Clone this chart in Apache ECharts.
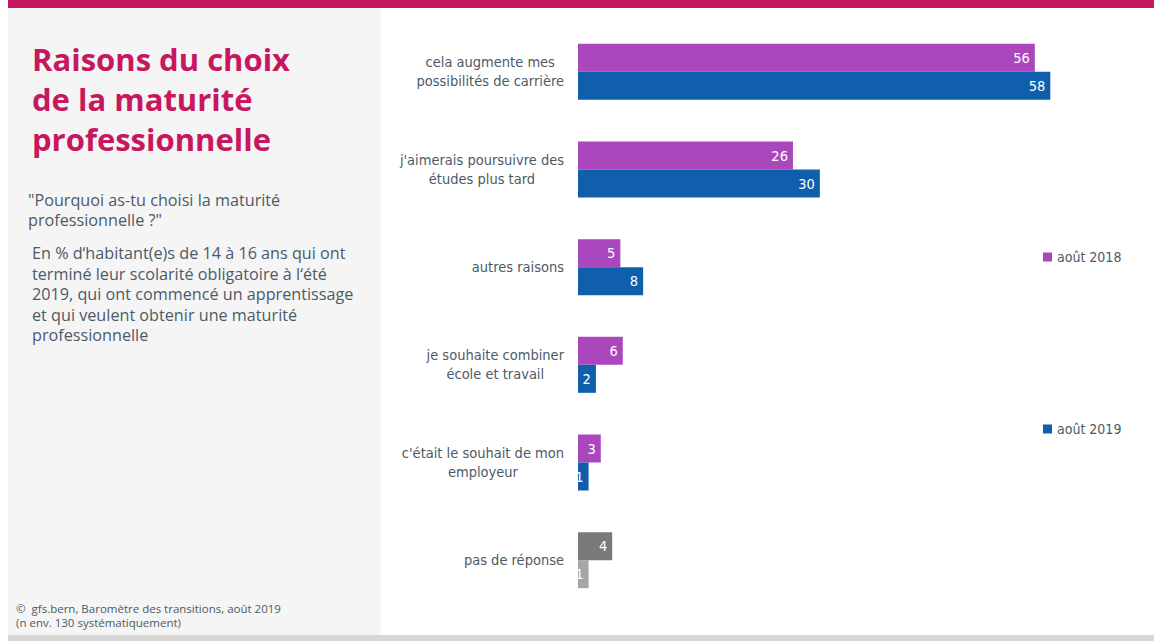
<!DOCTYPE html>
<html>
<head>
<meta charset="utf-8">
<script src="https://cdn.jsdelivr.net/npm/echarts@6/dist/echarts.min.js"></script>
<style>
html,body{margin:0;padding:0;background:#fff;}
#chart{width:1154px;height:641px;}
</style>
</head>
<body>
<div id="chart"></div>
<script>
// ---- data ----
const categories = [
  'cela augmente mes\npossibilités de carrière',
  "j'aimerais poursuivre des\nétudes plus tard",
  'autres raisons',
  'je souhaite combiner\nécole et travail',
  "c'était le souhait de mon\nemployeur",
  'pas de réponse'
];
const seriesNames = ['août 2018', 'août 2019'];
// values; labels show them rounded
const values2018 = [56.1, 26.4, 5.2, 5.5, 2.8, 4.2];
const values2019 = [58.0, 29.7, 8.0, 2.2, 1.3, 1.3];

const titleLines = ['Raisons du choix', 'de la maturité', 'professionnelle'];
const questionLines = ['"Pourquoi as-tu choisi la maturité', 'professionnelle ?"'];
const descLines = [
  'En % d\u2018habitant(e)s de 14 à 16 ans qui ont',
  'terminé leur scolarité obligatoire à l\u2018été',
  '2019, qui ont commencé un apprentissage',
  'et qui veulent obtenir une maturité',
  'professionnelle'
];
const footerLines = ['\u00a9  gfs.bern, Baromètre des transitions, août 2019', '(n env. 130 systématiquement)'];

// ---- styles ----
const C_PURPLE = '#ab47bc';
const C_BLUE = '#0f5fad';
const C_GRAY_DARK = '#7a7a7a';
const C_GRAY_LIGHT = '#a6a6a6';
const C_TEXT = '#4c5a67';
const C_MAGENTA = '#c7175e';
const NARROW = '"Liberation Sans Narrow", "DejaVu Sans Condensed", "Open Sans", sans-serif';
const SANS = '"Open Sans", "Noto Sans", sans-serif';

function withNoAnswer(vals, color) {
  const last = categories.length - 1;
  return vals.map((v, i) => i === last ? { value: v, itemStyle: { color: color } } : v);
}

const graphics = [
  { type: 'rect', shape: { x: 8, y: 0, width: 1146, height: 8 }, style: { fill: C_MAGENTA }, silent: true },
  { type: 'rect', shape: { x: 8, y: 8, width: 373, height: 627 }, style: { fill: '#f5f5f5' }, silent: true },
  { type: 'rect', shape: { x: 8, y: 635, width: 1146, height: 6 }, style: { fill: '#d7d7d7' }, silent: true },
  { type: 'text', x: 32, y: 38.5,
    style: { text: titleLines.join('\n'), fill: C_MAGENTA, fontSize: 31, fontWeight: 'bold', fontFamily: SANS, lineHeight: 40 } },
  { type: 'text', x: 28, y: 190,
    style: { text: questionLines.join('\n'), fill: C_TEXT, fontSize: 16.2, fontFamily: SANS, lineHeight: 20 } },
  { type: 'text', x: 32, y: 243,
    style: { text: descLines.join('\n'), fill: C_TEXT, fontSize: 16.2, fontFamily: SANS, lineHeight: 20.5 } },
  { type: 'text', x: 16, y: 601,
    style: { text: footerLines.join('\n'), fill: C_TEXT, fontSize: 11.5, fontFamily: SANS, lineHeight: 14 } }
];

const labelStyle = {
  show: true, position: 'insideRight', distance: 5,
  color: '#ffffff', fontSize: 14.5, fontFamily: NARROW,
  formatter: p => String(Math.round(p.value))
};

const chart = echarts.init(document.getElementById('chart'), null, { renderer: 'svg' });
chart.setOption({
  animation: false,
  backgroundColor: '#ffffff',
  graphic: graphics,
  grid: { left: 578, top: 23, width: 570, height: 586 },
  legend: [
    { data: [seriesNames[0]], left: 1038, top: 245, icon: 'rect', itemWidth: 9, itemHeight: 9, itemGap: 6,
      textStyle: { color: C_TEXT, fontSize: 14, fontFamily: NARROW } },
    { data: [seriesNames[1]], left: 1038, top: 417, icon: 'rect', itemWidth: 9, itemHeight: 9, itemGap: 6,
      textStyle: { color: C_TEXT, fontSize: 14, fontFamily: NARROW } }
  ],
  xAxis: { type: 'value', min: 0, max: 70, show: false },
  yAxis: {
    type: 'category', data: categories, inverse: true,
    axisLine: { show: false }, axisTick: { show: false }, splitLine: { show: false },
    axisLabel: {
      color: C_TEXT, fontSize: 14.5, fontFamily: NARROW, lineHeight: 19, margin: 14, align: 'right',
      formatter: v => v.split('\n').map(l => '{c|' + l + '}').join('\n'),
      rich: { c: { align: 'center', color: C_TEXT, fontSize: 14.5, fontFamily: NARROW, lineHeight: 19 } }
    }
  },
  series: [
    { name: seriesNames[0], type: 'bar', barWidth: 28, barGap: '0%',
      itemStyle: { color: C_PURPLE }, label: labelStyle,
      data: withNoAnswer(values2018, C_GRAY_DARK) },
    { name: seriesNames[1], type: 'bar', barWidth: 28, barGap: '0%',
      itemStyle: { color: C_BLUE }, label: labelStyle,
      data: withNoAnswer(values2019, C_GRAY_LIGHT) }
  ]
});
</script>
</body>
</html>
